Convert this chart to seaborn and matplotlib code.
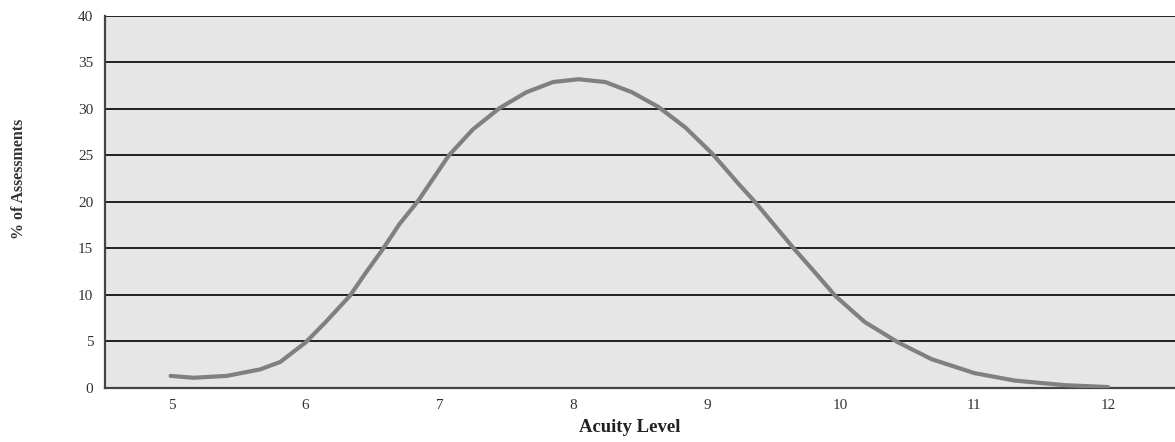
import matplotlib
matplotlib.use("Agg")
import matplotlib.pyplot as plt
import pandas as pd
import seaborn as sns

# points
acuity = [4.99, 5.16, 5.41, 5.66, 5.81, 6.0, 6.15, 6.33, 6.45, 6.58, 6.70, 6.84,
          7.07, 7.25, 7.45, 7.65, 7.85, 8.04, 8.24, 8.44, 8.64, 8.84, 9.04,
          9.24, 9.36, 9.65, 9.81, 9.96, 10.18, 10.43, 10.68, 11.0, 11.3,
          11.68, 12.0]
pct = [1.3, 1.1, 1.3, 2.0, 2.8, 4.9, 7.1, 9.9, 12.4, 15.0, 17.6, 20.1,
       25.0, 27.8, 30.1, 31.8, 32.9, 33.2, 32.9, 31.8, 30.2, 28.0, 25.2,
       21.9, 20.0, 15.0, 12.4, 9.9, 7.1, 4.9, 3.1, 1.6, 0.8,
       0.3, 0.1]
x_ticks = [5, 6, 7, 8, 9, 10, 11, 12]
y_ticks = [0, 5, 10, 15, 20, 25, 30, 35, 40]

df = pd.DataFrame({"Acuity Level": acuity, "% of Assessments": pct})

sns.set_style("white")
plt.rcParams["font.family"] = ["Liberation Serif", "DejaVu Serif"]

fig = plt.figure(figsize=(11.75, 4.42), dpi=100)
ax = fig.add_axes([0.0894, 0.1222, 0.9106, 0.8416])
ax.set_facecolor("#e6e6e6")

for yv in y_ticks[1:]:
    ax.axhline(yv, color="#111111", lw=1.3, zorder=1)

sns.lineplot(data=df, x="Acuity Level", y="% of Assessments", ax=ax,
             color="#808080", lw=3, zorder=3, solid_joinstyle="round",
             solid_capstyle="round")

ax.set_xlim(4.5, 12.5)
ax.set_ylim(0, 40)
ax.set_xticks(x_ticks)
ax.set_yticks(y_ticks)
ax.tick_params(axis="x", direction="inout", length=7.2, width=1.5,
               color="#222222", labelsize=11, labelcolor="#333333", pad=4)
ax.tick_params(axis="y", length=0, labelsize=11, labelcolor="#333333", pad=8.5)

for s in ["left", "bottom"]:
    ax.spines[s].set_color("#444444")
    ax.spines[s].set_linewidth(1.6)
ax.spines["top"].set_visible(False)
ax.spines["right"].set_visible(False)

ax.set_xlabel("Acuity Level", fontsize=13.5, fontweight="bold", color="#222222")
ax.set_ylabel("% of Assessments", fontsize=11.5, fontweight="bold", color="#333333")
ax.xaxis.set_label_coords(0.49, -0.083)
ax.yaxis.set_label_coords(-0.073, 0.563)

fig.savefig("out.png", dpi=100)
